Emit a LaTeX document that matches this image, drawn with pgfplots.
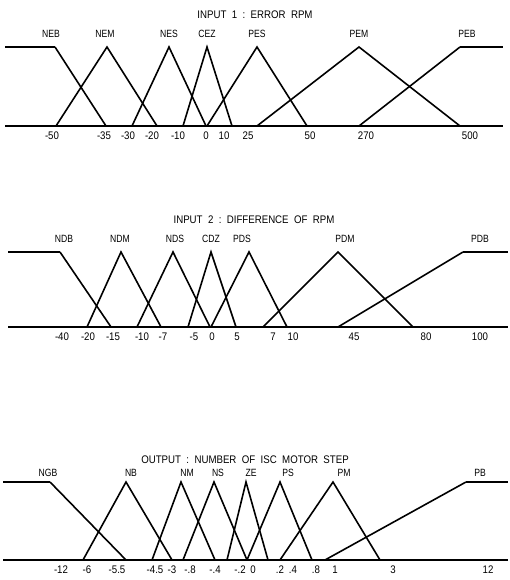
\documentclass[border=0pt]{standalone}
\usepackage{fontspec}
\setmainfont{Liberation Sans}
\newfontfamily\cond{Liberation Sans}[FakeStretch=0.82]
\newfontfamily\tcond{Liberation Sans}[FakeStretch=0.88]
\usepackage{pgfplots}
\pgfplotsset{compat=1.18}
\pgfplotsset{
  mfaxis/.style={
    x=1pt, y=#1pt,
    xmin=0, xmax=509, ymin=0, ymax=1,
    enlargelimits=false, clip=false,
    anchor=south west,
    axis line style={draw=none},
    tick style={draw=none},
    ytick=\empty,
    xticklabel style={font=\tcond\fontsize{11}{11}\selectfont, yshift=-5pt, inner sep=1pt},
  },
  mf/.style={black, line width=1.6pt, no marks},
  base/.style={black, line width=2.6pt, no marks},
}
\tikzset{
  nm/.style={font=\cond\fontsize{10.5}{10.5}\selectfont},
  ttl/.style={font=\tcond\fontsize{11}{11}\selectfont},
}
\begin{document}
\begin{tikzpicture}
\useasboundingbox (0,0) rectangle (509pt,580pt);

% ---------- INPUT 1 ----------
\begin{axis}[mfaxis=79, at={(0pt,454pt)},
  xtick={52,104,128,152,178,206,224,248,310,366,470},
  xticklabels={-50,-35,-30,-20,-10,0,10,25,50,270,500}]
\addplot[base] coordinates {(5,0) (503,0)};
\addplot[base] coordinates {(5,1) (55,1)};
\addplot[mf] coordinates {(55,1) (106,0)};
\addplot[mf] coordinates {(56,0) (107,1) (157,0)};
\addplot[mf] coordinates {(132,0) (169,1) (206,0)};
\addplot[mf] coordinates {(183,0) (207,1) (232,0)};
\addplot[mf] coordinates {(207,0) (257,1) (307,0)};
\addplot[mf] coordinates {(257,0) (359,1) (460,0)};
\addplot[mf] coordinates {(359,0) (460,1)};
\addplot[base] coordinates {(460,1) (503,1)};
\node[ttl, yshift=32pt] at (axis cs:255,1) {INPUT\ \ 1\ \ :\ \ ERROR\ \ RPM};
\node[nm, yshift=13pt] at (axis cs:51,1) {NEB};
\node[nm, yshift=13pt] at (axis cs:105,1) {NEM};
\node[nm, yshift=13pt] at (axis cs:169,1) {NES};
\node[nm, yshift=13pt] at (axis cs:207,1) {CEZ};
\node[nm, yshift=13pt] at (axis cs:257,1) {PES};
\node[nm, yshift=13pt] at (axis cs:359,1) {PEM};
\node[nm, yshift=13pt] at (axis cs:467,1) {PEB};
\end{axis}

% ---------- INPUT 2 ----------
\begin{axis}[mfaxis=75, at={(0pt,253pt)},
  xtick={62,88,113,142,163,194,212,237,273,293,354,426,480},
  xticklabels={-40,-20,-15,-10,-7,-5,0,5,7,10,45,80,100}]
\addplot[base] coordinates {(8,0) (508,0)};
\addplot[base] coordinates {(8,1) (60,1)};
\addplot[mf] coordinates {(60,1) (111,0)};
\addplot[mf] coordinates {(87,0) (121,1) (161,0)};
\addplot[mf] coordinates {(137,0) (173,1) (210,0)};
\addplot[mf] coordinates {(188,0) (211,1) (236,0)};
\addplot[mf] coordinates {(211,0) (249,1) (287,0)};
\addplot[mf] coordinates {(263,0) (338,1) (413,0)};
\addplot[mf] coordinates {(338,0) (463,1)};
\addplot[base] coordinates {(463,1) (508,1)};
\node[ttl, yshift=32pt] at (axis cs:254,1) {INPUT\ \ 2\ \ :\ \ DIFFERENCE\ \ OF\ \ RPM};
\node[nm, yshift=13pt] at (axis cs:64,1) {NDB};
\node[nm, yshift=13pt] at (axis cs:120,1) {NDM};
\node[nm, yshift=13pt] at (axis cs:175,1) {NDS};
\node[nm, yshift=13pt] at (axis cs:211,1) {CDZ};
\node[nm, yshift=13pt] at (axis cs:242,1) {PDS};
\node[nm, yshift=13pt] at (axis cs:345,1) {PDM};
\node[nm, yshift=13pt] at (axis cs:480,1) {PDB};
\end{axis}

% ---------- OUTPUT ----------
\begin{axis}[mfaxis=78, at={(0pt,20pt)},
  xtick={61,87,117,155,172,190,215,240,253,280,293,316,335,393,488},
  xticklabels={-12,-6,-5.5,-4.5,-3,-.8,-.4,-.2,0,.2,.4,.8,1,3,12}]
\addplot[base] coordinates {(3,0) (508,0)};
\addplot[base] coordinates {(3,1) (50,1)};
\addplot[mf] coordinates {(50,1) (126,0)};
\addplot[mf] coordinates {(83,0) (126,1) (172,0)};
\addplot[mf] coordinates {(152,0) (181,1) (215,0)};
\addplot[mf] coordinates {(183,0) (214,1) (247,0)};
\addplot[mf] coordinates {(227,0) (246,1) (268,0)};
\addplot[mf] coordinates {(247,0) (280,1) (312,0)};
\addplot[mf] coordinates {(280,0) (333,1) (380,0)};
\addplot[mf] coordinates {(325,0) (466,1)};
\addplot[base] coordinates {(466,1) (508,1)};
\node[ttl, yshift=22pt] at (axis cs:245,1) {OUTPUT\ \ :\ \ NUMBER\ \ OF\ \ ISC\ \ MOTOR\ \ STEP};
\node[nm, yshift=9pt] at (axis cs:48,1) {NGB};
\node[nm, yshift=9pt] at (axis cs:131,1) {NB};
\node[nm, yshift=9pt] at (axis cs:187,1) {NM};
\node[nm, yshift=9pt] at (axis cs:218,1) {NS};
\node[nm, yshift=9pt] at (axis cs:251,1) {ZE};
\node[nm, yshift=9pt] at (axis cs:288,1) {PS};
\node[nm, yshift=9pt] at (axis cs:344,1) {PM};
\node[nm, yshift=9pt] at (axis cs:480,1) {PB};
\end{axis}
\end{tikzpicture}
\end{document}
